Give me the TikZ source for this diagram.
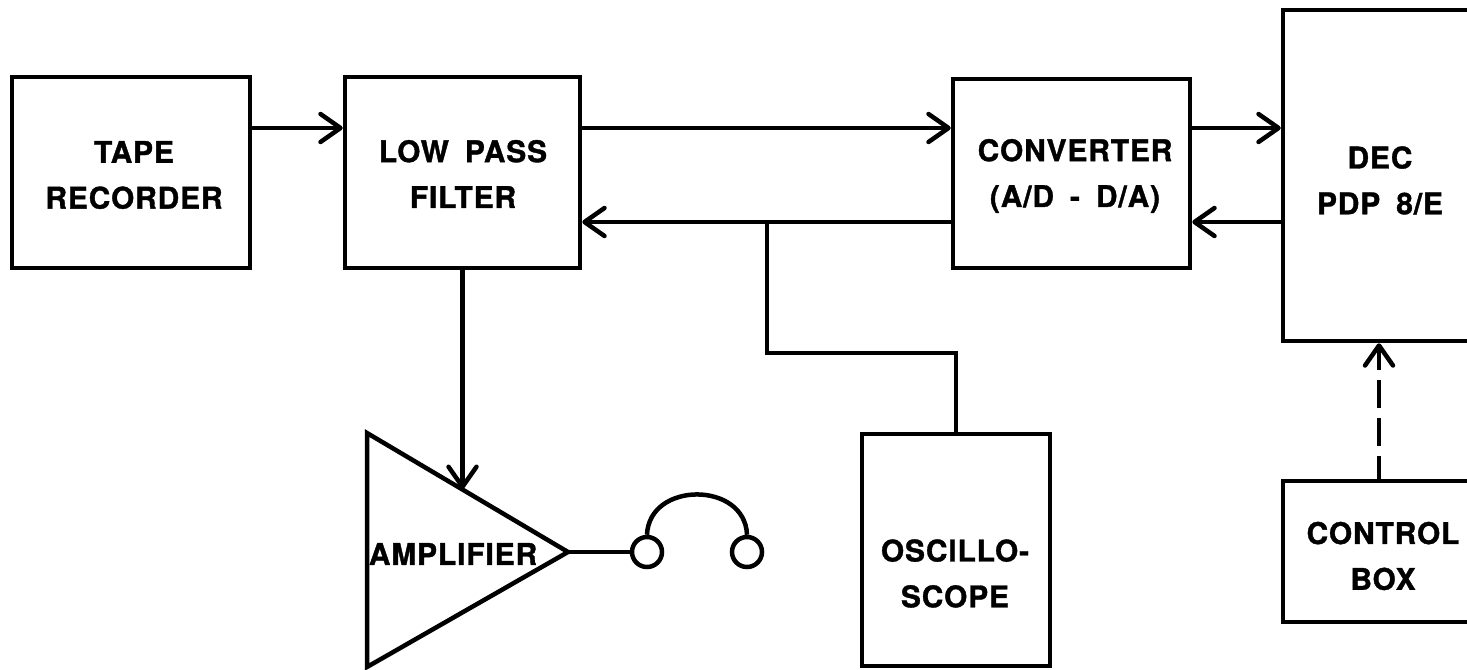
\documentclass[tikz,border=0pt]{standalone}
\usepackage{fontspec}
\newfontfamily\lblfont{TeX Gyre Heros}[LetterSpace=3,BoldFeatures={FakeBold=1.2}]
\usetikzlibrary{arrows.meta}
\newcommand\lbltext{\lblfont\bfseries\fontsize{30}{46}\selectfont}
\newcommand\wsp{\hspace{16bp}}
\begin{document}
\begin{tikzpicture}[x=1bp,y=-1bp,
  box/.style={draw,line width=4.5bp,inner sep=0pt,minimum width=#1},
  txt/.style={inner sep=0pt,align=center,font=\lbltext},
  conn/.style={line width=4.5bp},
  arr/.style={conn,-{Straight Barb[length=20bp,width=28bp,round]}},
  lbarr/.style={conn,{Straight Barb[length=20bp,width=28bp,round]}-}
]
\clip (0,0) rectangle (1467,670);
\fill[white] (0,0) rectangle (1467,670);

% boxes
\node[box=238bp,minimum height=191bp] (tape) at (131,172.5) {};
\node[box=235bp,minimum height=191bp] (lpf)  at (462.5,172.5) {};
\node[box=237bp,minimum height=189bp] (conv) at (1071.5,173.5) {};
\node[box=192bp,minimum height=331bp] (dec)  at (1379,175.5) {};
\node[box=188bp,minimum height=232bp] (osc)  at (956,550) {};
\node[box=192bp,minimum height=141bp] (ctrl) at (1379,551.5) {};

% labels
\node[txt] (tapel) at (134,175) {TAPE\\RECORDER};
\node[txt] (lpfl)  at (463,174) {LOW\wsp PASS\\FILTER};
\node[txt] (convl) at (1075,176) {CONVERTER\\(A/D\wsp-\wsp D/A)};
\node[txt] (decl)  at (1380,180.5) {DEC\\PDP\wsp 8/E};
\node[txt] (oscl)  at (955,573.5) {OSCILLO-\\SCOPE};
\node[txt] (ctrll) at (1383,556) {CONTROL\\BOX};

% rows
\coordinate (r1) at (0,128);
\coordinate (r2) at (0,222);

\draw[arr] (tape.east |- r1) -- (lpf.west |- r1);
\draw[arr] (lpf.east |- r1) -- (conv.west |- r1);
\draw[arr] (conv.west |- r2) -- (lpf.east |- r2);
\draw[arr] (conv.east |- r1) -- (dec.west |- r1);
\draw[arr] (dec.west |- r2) -- (conv.east |- r2);

% oscilloscope tap
\coordinate (j) at (767,222);
\coordinate (jb) at (767,353);
\draw[conn] (j) -- (jb) -- (osc.north |- jb) -- (osc.north);

% control box dashed arrow
\draw[lbarr,dash pattern=on 28bp off 10bp,dash phase=6bp] (dec.south) -- (ctrl.north);

% amplifier
\coordinate (a1) at (367,433);
\coordinate (a2) at (367,667);
\coordinate (a3) at (568,552);
\draw[conn,line join=miter] (a1) -- (a3) -- (a2) -- cycle;
\node[txt] (ampl) at (453,554) {AMPLIFIER};
\coordinate (ain) at (462.5,489);
\draw[arr] (lpf.south) -- (ain);

% headphones
\node[draw,circle,conn,minimum size=30bp,inner sep=0pt] (e1) at (647,552) {};
\node[draw,circle,conn,minimum size=30bp,inner sep=0pt] (e2) at (747,552) {};
\draw[conn] (a3) -- (e1.west);
\draw[conn] (e1.north) .. controls (649,481) and (745,481) .. (e2.north);
\end{tikzpicture}
\end{document}
